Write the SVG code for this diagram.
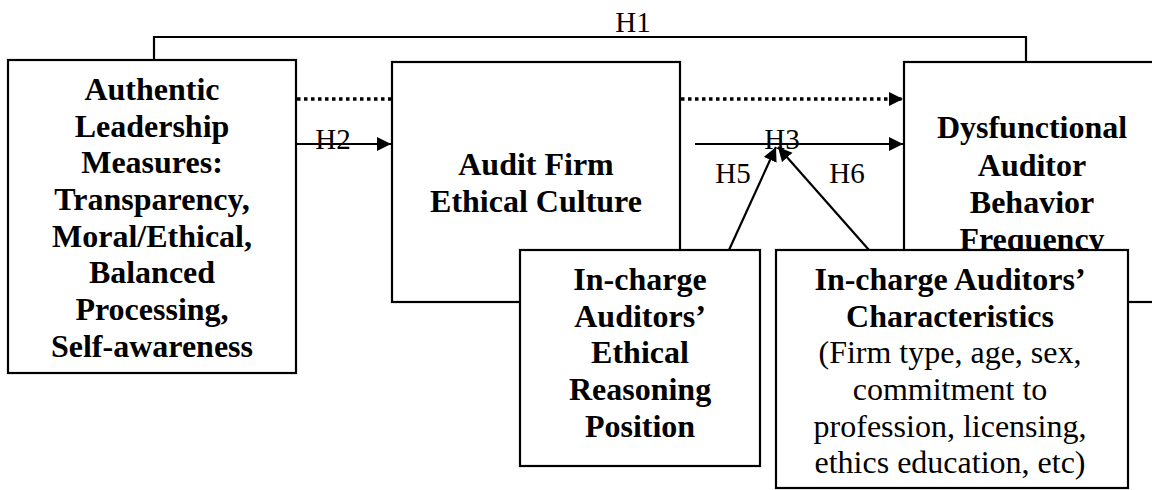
<svg xmlns="http://www.w3.org/2000/svg" width="1152" height="490" viewBox="0 0 1152 490">
<style>
.box{fill:#fff;stroke:#000;stroke-width:2.2}
.b{font-family:"Liberation Serif","Times New Roman",serif;font-weight:bold;font-size:32px;text-anchor:middle;fill:#000}
.r{font-family:"Liberation Serif","Times New Roman",serif;font-size:32px;text-anchor:middle;fill:#000}
.lbl{font-family:"Liberation Serif","Times New Roman",serif;font-size:29px;text-anchor:middle;fill:#000}
.ln{stroke:#000;stroke-width:2.2;fill:none}
.dot{stroke:#000;stroke-width:3.5;fill:none;stroke-dasharray:3.5 3.5}
</style>
<defs>
<marker id="ah" markerUnits="userSpaceOnUse" markerWidth="16" markerHeight="16" refX="14" refY="7" orient="auto">
<path d="M0,0 L14,7 L0,14 Z" fill="#000"/>
</marker>
</defs>
<rect width="1152" height="490" fill="#fff"/>
<g id="connectors">
<polyline class="ln" points="154,60 154,37 1026,37 1026,62"/>
<line class="dot" x1="297" y1="99" x2="392" y2="99"/>
<line class="dot" x1="681" y1="99" x2="903" y2="99" marker-end="url(#ah)"/>
<line class="ln" x1="296" y1="144" x2="391" y2="144" marker-end="url(#ah)"/>
<line class="ln" x1="695" y1="144" x2="903" y2="144" marker-end="url(#ah)"/>
<line class="ln" x1="729" y1="250" x2="776" y2="147" marker-end="url(#ah)"/>
<line class="ln" x1="869" y1="250" x2="778" y2="147" marker-end="url(#ah)"/>
</g>
<g id="labels">
<text class="lbl" x="633" y="32">H1</text>
<text class="lbl" x="333" y="149">H2</text>
<text class="lbl" x="782" y="149">H3</text>
<text class="lbl" x="733" y="183">H5</text>
<text class="lbl" x="847" y="183">H6</text>
</g>
<g id="authentic">
<rect class="box" x="8" y="60" width="288" height="313"/>
<text class="b" x="152" y="100">Authentic</text>
<text class="b" x="152" y="137">Leadership</text>
<text class="b" x="152" y="173">Measures:</text>
<text class="b" x="152" y="210">Transparency,</text>
<text class="b" x="152" y="247">Moral/Ethical,</text>
<text class="b" x="152" y="283">Balanced</text>
<text class="b" x="152" y="320">Processing,</text>
<text class="b" x="152" y="357">Self-awareness</text>
</g>
<g id="culture">
<rect class="box" x="392" y="62" width="288" height="240"/>
<text class="b" x="536" y="175">Audit Firm</text>
<text class="b" x="536" y="212">Ethical Culture</text>
</g>
<g id="dysfunctional">
<rect class="box" x="904" y="62" width="260" height="240"/>
<text class="b" x="1032" y="138">Dysfunctional</text>
<text class="b" x="1032" y="176">Auditor</text>
<text class="b" x="1032" y="213">Behavior</text>
<text class="b" x="1032" y="250">Frequency</text>
</g>
<g id="reasoning">
<rect class="box" x="520" y="250" width="240" height="216"/>
<text class="b" x="640" y="290">In-charge</text>
<text class="b" x="640" y="327">Auditors’</text>
<text class="b" x="640" y="363">Ethical</text>
<text class="b" x="640" y="400">Reasoning</text>
<text class="b" x="640" y="437">Position</text>
</g>
<g id="characteristics">
<rect class="box" x="776" y="250" width="352" height="238"/>
<text class="b" x="950" y="290">In-charge Auditors’</text>
<text class="b" x="950" y="327">Characteristics</text>
<text class="r" x="950" y="363">(Firm type, age, sex,</text>
<text class="r" x="950" y="400">commitment to</text>
<text class="r" x="950" y="437">profession, licensing,</text>
<text class="r" x="950" y="473">ethics education, etc)</text>
</g>
</svg>
